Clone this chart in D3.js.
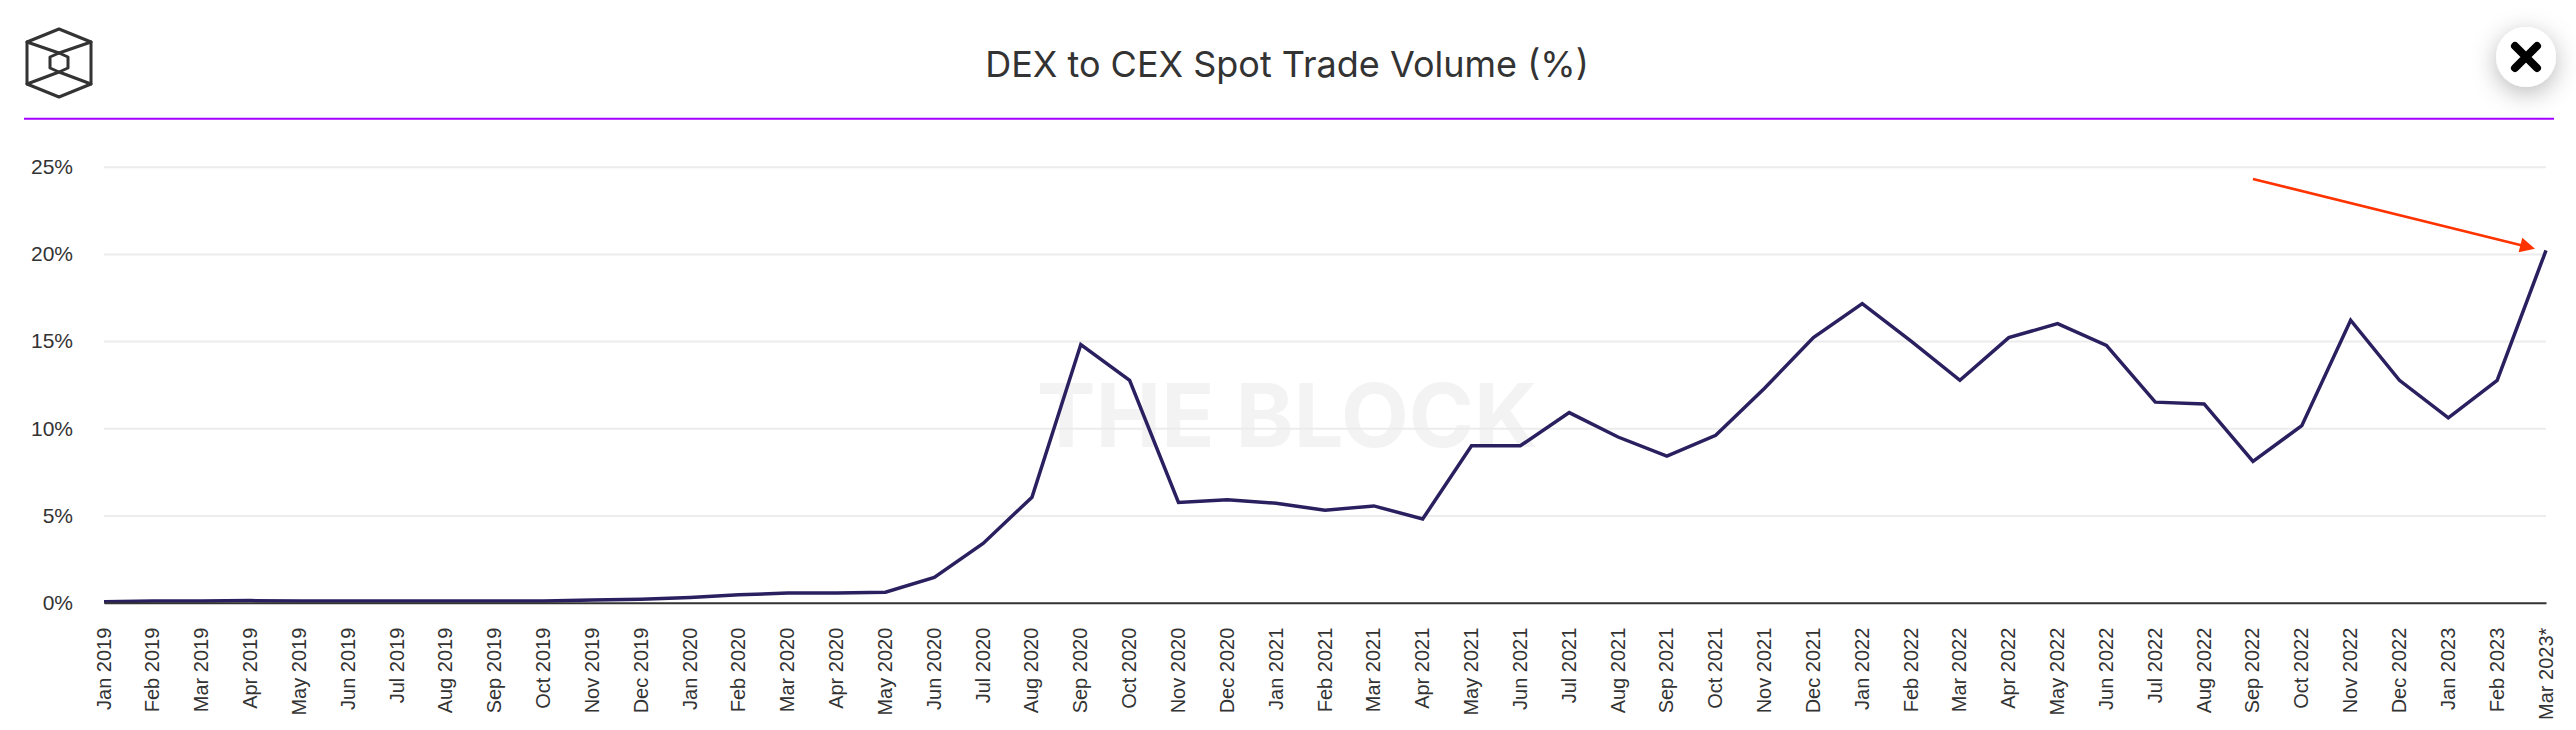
<!DOCTYPE html>
<html><head><meta charset="utf-8">
<script src="https://cdn.jsdelivr.net/npm/d3@7/dist/d3.min.js"></script>
<style>html,body{margin:0;padding:0;background:#fff;overflow:hidden}svg{display:block}</style>
</head><body><svg id="c" width="2576" height="730"></svg>
<script>
const monthLabels = ["Jan 2019","Feb 2019","Mar 2019","Apr 2019","May 2019","Jun 2019","Jul 2019","Aug 2019","Sep 2019","Oct 2019","Nov 2019","Dec 2019","Jan 2020","Feb 2020","Mar 2020","Apr 2020","May 2020","Jun 2020","Jul 2020","Aug 2020","Sep 2020","Oct 2020","Nov 2020","Dec 2020","Jan 2021","Feb 2021","Mar 2021","Apr 2021","May 2021","Jun 2021","Jul 2021","Aug 2021","Sep 2021","Oct 2021","Nov 2021","Dec 2021","Jan 2022","Feb 2022","Mar 2022","Apr 2022","May 2022","Jun 2022","Jul 2022","Aug 2022","Sep 2022","Oct 2022","Nov 2022","Dec 2022","Jan 2023","Feb 2023","Mar 2023*"];
const dexToCex = [0.05,0.1,0.1,0.12,0.1,0.1,0.1,0.1,0.1,0.1,0.15,0.2,0.3,0.45,0.55,0.55,0.6,1.45,3.4,6.05,14.8,12.75,5.75,5.9,5.7,5.3,5.55,4.8,9.0,9.0,10.9,9.5,8.4,9.6,12.3,15.2,17.15,15.0,12.75,15.2,16.0,14.75,11.5,11.4,8.1,10.15,16.2,12.75,10.6,12.75,20.2];
const yTicks = [0,5,10,15,20,25];
const arrowFrom = ["Sep 2022",24.3];
const arrowTo = ["Mar 2023*",20.3];
const titleText = "DEX to CEX Spot Trade Volume (%)";
const watermark = "THE BLOCK";

const svg = d3.select("#c");
const x = d3.scalePoint().domain(monthLabels).range([104,2546]);
const y = d3.scaleLinear().domain([0,25]).range([602.7,166.7]);
const ink = "#333";

// watermark
svg.append("text").text(watermark).attr("x",1287).attr("y",447).attr("text-anchor","middle")
  .attr("font-family","Inter").attr("font-weight",700).attr("font-size",88).attr("fill","#f3f3f3");

// grid + y labels
const yAxis = d3.axisLeft(y).tickValues(yTicks).tickSize(0).tickPadding(31).tickFormat(d=>d+"%");
const gy = svg.append("g").attr("transform","translate(104,0)").call(yAxis);
gy.select(".domain").remove();
gy.selectAll("text").attr("font-family","Liberation Sans").attr("font-size",21).attr("fill",ink);
gy.selectAll(".tick").filter(d=>d>0).append("line").attr("x1",0).attr("x2",2442).attr("stroke","#ececec").attr("stroke-width",2);

// series
const line = d3.line().x((d,i)=>x(monthLabels[i])).y(d=>y(d));
svg.append("path").datum(dexToCex).attr("d",line).attr("fill","none").attr("stroke","#2a2060").attr("stroke-width",3.5).attr("stroke-linejoin","miter");

// x axis
const xAxis = d3.axisBottom(x).tickSize(0).tickPadding(0);
const gx = svg.append("g").attr("transform","translate(0,602.7)").call(xAxis);
gx.select(".domain").attr("stroke",ink).attr("stroke-width",2);
gx.selectAll("text").attr("transform","translate(-1,25) rotate(-90)").attr("text-anchor","end").attr("dx",0).attr("dy","0.35em").attr("y",0)
  .attr("font-family","Liberation Sans").attr("font-size",20).attr("fill",ink);

// title
svg.append("text").text(titleText).attr("x",1287).attr("y",77).attr("text-anchor","middle")
  .attr("font-family","Inter").attr("font-size",36).attr("font-weight",400).attr("fill",ink);

// header rule
svg.append("line").attr("x1",24).attr("x2",2554).attr("y1",118.7).attr("y2",118.7).attr("stroke","#a400ff").attr("stroke-width",2);

// logo
const logo = svg.append("g").attr("fill","none").attr("stroke",ink).attr("stroke-width",3).attr("stroke-linejoin","round").attr("stroke-linecap","round");
logo.append("path").attr("d","M59,29L91,42V84L59,97L27,84V42Z");
logo.append("path").attr("d","M59,53L68,57V68L59,72L50,68V57Z");
logo.append("path").attr("d","M27,42L59,53L91,42M27,84L59,72L91,84");

// arrow
const defs = svg.append("defs");
defs.append("filter").attr("id","sh").attr("x","-60%").attr("y","-60%").attr("width","220%").attr("height","220%")
  .append("feDropShadow").attr("dx",0).attr("dy",6).attr("stdDeviation",12).attr("flood-color","#000").attr("flood-opacity",0.28);
const ax0=d3.scaleLinear().domain([0,50]).range(x.range());
const x0=x(arrowFrom[0])-0, y0=y(arrowFrom[1]), x1=x(arrowTo[0])-11, y1=y(arrowTo[1]);
const ang=Math.atan2(y1-y0,x1-x0)*180/Math.PI;
svg.append("line").attr("x1",x0).attr("y1",y0).attr("x2",x1-10*Math.cos(ang*Math.PI/180)).attr("y2",y1-10*Math.sin(ang*Math.PI/180)).attr("stroke","#ff3300").attr("stroke-width",2.6);
svg.append("path").attr("d","M0,0L-15,-7.5L-15,7.5Z").attr("fill","#ff3300").attr("transform",`translate(${x1},${y1}) rotate(${ang})`);

// close button
const btn = svg.append("g").attr("transform","translate(2526,57)");
btn.append("circle").attr("r",30).attr("fill","#fff").attr("filter","url(#sh)");
btn.append("path").attr("d","M-11,-11L11,11M11,-11L-11,11").attr("stroke","#000").attr("stroke-width",8).attr("stroke-linecap","round");
</script></body></html>
